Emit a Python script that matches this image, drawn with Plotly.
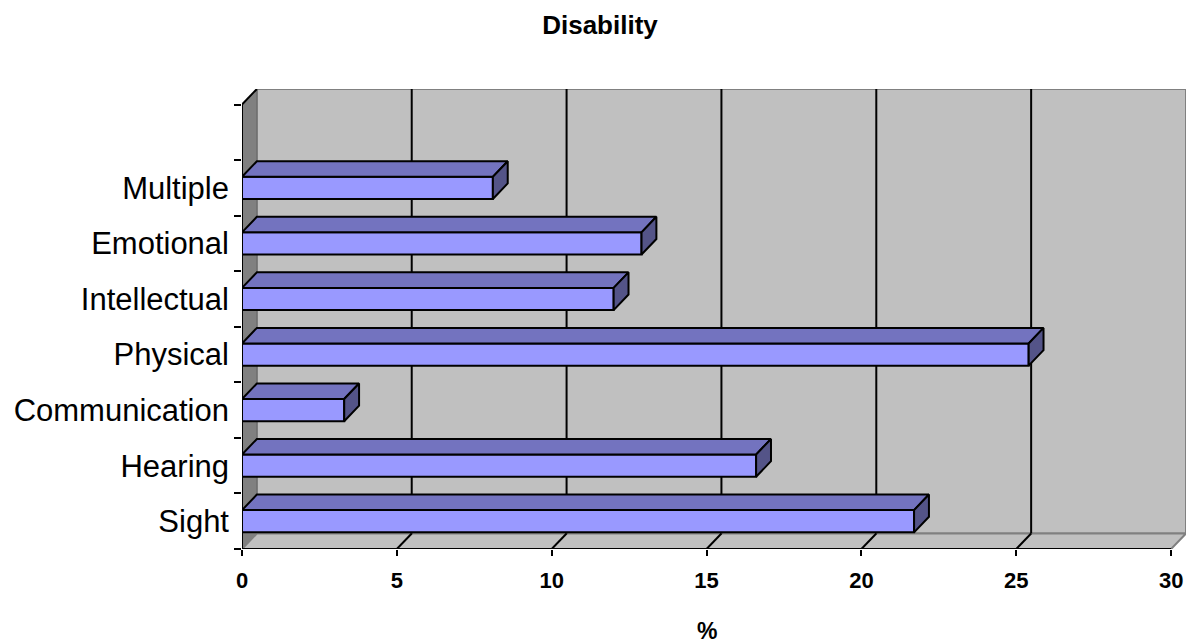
import plotly.graph_objects as go

# ---- data ----
categories = ["Sight", "Hearing", "Communication", "Physical", "Intellectual", "Emotional", "Multiple"]
values = [21.7, 16.6, 3.3, 25.4, 12.0, 12.9, 8.1]
x_ticks = [0, 5, 10, 15, 20, 25, 30]
title_text = "Disability"
x_title = "%"

# ---- geometry / style ----
FONT = "Liberation Sans, Arial, sans-serif"
N_SLOTS = 8          # 7 categories + one empty slot at top (Excel layout)
X_MAX = 30
DX = 0.48            # 3-D depth in x units
DY = 0.28            # 3-D depth in y units
BAR_W = 0.40
FRONT = "#9999FF"
TOP = "#7373BF"
SIDE = "#545488"
WALL = "#C0C0C0"
WALL_EDGE = "#808080"

W, H = 1188, 643
L, R, T, B = 242, 2, 89, 94

centers = [i + 0.5 for i in range(len(categories))]

fig = go.Figure()

# front faces of bars
fig.add_trace(go.Bar(
    y=centers, x=values, orientation="h", width=BAR_W,
    marker=dict(color=FRONT, line=dict(color="black", width=2)),
    hoverinfo="skip", showlegend=False,
))

# top and side faces derived from the values
tx, ty, sx, sy = [], [], [], []
for c, v in zip(centers, values):
    t = c + BAR_W / 2
    b = c - BAR_W / 2
    tx += [0, v, v + DX, DX, 0, None]
    ty += [t, t, t + DY, t + DY, t, None]
    sx += [v, v + DX, v + DX, v, v, None]
    sy += [b, b + DY, t + DY, t, b, None]

fig.add_trace(go.Scatter(x=tx, y=ty, mode="lines", fill="toself", fillcolor=TOP,
                         line=dict(color="black", width=2), hoverinfo="skip", showlegend=False))
fig.add_trace(go.Scatter(x=sx, y=sy, mode="lines", fill="toself", fillcolor=SIDE,
                         line=dict(color="black", width=2), hoverinfo="skip", showlegend=False))

shapes = []
# back wall
shapes.append(dict(type="rect", xref="x", yref="y", x0=DX, x1=X_MAX + DX, y0=DY, y1=N_SLOTS + DY,
                   fillcolor=WALL, line=dict(color=WALL_EDGE, width=2), layer="below"))
# side wall
shapes.append(dict(type="path", xref="x", yref="y",
                   path=f"M 0,0 L 0,{N_SLOTS} L {DX},{N_SLOTS + DY} L {DX},{DY} Z",
                   fillcolor=WALL_EDGE, line=dict(color="#6a6a6a", width=1), layer="below"))
# floor
shapes.append(dict(type="path", xref="x", yref="y",
                   path=f"M 0,0 L {X_MAX},0 L {X_MAX + DX},{DY} L {DX},{DY} Z",
                   fillcolor=WALL, line=dict(color=WALL_EDGE, width=2), layer="below"))
# gridlines on wall and slanted tick lines on floor
for v in x_ticks[1:-1]:
    shapes.append(dict(type="line", xref="x", yref="y", x0=v + DX, x1=v + DX, y0=DY, y1=N_SLOTS + DY,
                       line=dict(color="black", width=2), layer="below"))
    shapes.append(dict(type="line", xref="x", yref="y", x0=v, x1=v + DX, y0=0, y1=DY,
                       line=dict(color="black", width=2), layer="below"))
# front axis lines
shapes.append(dict(type="line", xref="x", yref="y", x0=0, x1=X_MAX, y0=0, y1=0,
                   line=dict(color="black", width=2), layer="above"))
shapes.append(dict(type="line", xref="x", yref="y", x0=0, x1=0, y0=0, y1=N_SLOTS,
                   line=dict(color="black", width=2), layer="above"))
shapes.append(dict(type="line", xref="x", yref="y", x0=0, x1=DX, y0=N_SLOTS, y1=N_SLOTS + DY,
                   line=dict(color="black", width=2), layer="above"))

plot_h = H - T - B

fig.update_layout(
    width=W, height=H,
    margin=dict(l=L, r=R, t=T, b=B),
    paper_bgcolor="white", plot_bgcolor="white",
    shapes=shapes,
    showlegend=False,
    title=dict(text=title_text, x=600 / W, xref="container", xanchor="center",
               y=1 - 25 / H, yref="container", yanchor="middle",
               font=dict(family=FONT, size=26, color="black", weight="bold")),
    xaxis=dict(range=[0, X_MAX + DX], tickvals=x_ticks, ticktext=[str(t) for t in x_ticks],
               ticks="outside", ticklen=6, tickwidth=2, tickcolor="black",
               tickfont=dict(family=FONT, size=22, color="black", weight="bold"),
               ticklabelstandoff=6, automargin=False,
               showgrid=False, zeroline=False, showline=False, fixedrange=True),
    yaxis=dict(range=[0, N_SLOTS + DY], tickvals=centers, ticktext=categories,
               ticks="", ticklabelstandoff=12, automargin=False,
               tickfont=dict(family=FONT, size=31, color="black"),
               minor=dict(tickvals=list(range(N_SLOTS + 1)), ticks="outside", ticklen=7,
                          tickwidth=2, tickcolor="black", showgrid=False),
               showgrid=False, zeroline=False, showline=False, fixedrange=True),
    annotations=[dict(text=x_title, x=X_MAX / 2, xref="x", y=-(631 - 549) / plot_h, yref="paper",
                      xanchor="center", yanchor="middle", showarrow=False,
                      font=dict(family=FONT, size=23, color="black", weight="bold"))],
)

fig.write_html("out.html", config={"displayModeBar": False},
               post_script="document.body.style.margin='0';document.body.style.overflow='hidden';")
